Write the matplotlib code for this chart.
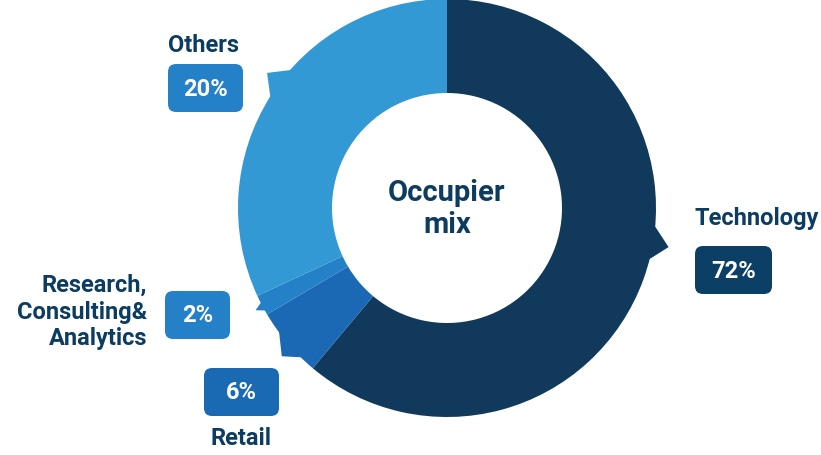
import numpy as np
import matplotlib.pyplot as plt
from matplotlib.patches import Polygon, FancyBboxPatch

# data (slice sizes as drawn, labels as printed)
sectors = ["Technology", "Retail", "Research,\nConsulting&\nAnalytics", "Others"]
shares = [61.1, 5.4, 1.6, 31.9]
pct_labels = ["72%", "6%", "2%", "20%"]
slice_colors = ["#10395c", "#1b69b4", "#2581c7", "#3399d4"]
box_colors = ["#0c3f66", "#1a69b3", "#2581c7", "#2581c7"]
txt_col = "#0d3c61"

W, H = 821, 456
cx, cy = 447, H - 209      # centre of the donut (y up)
R, r_in = 209, 115

plt.rcParams['font.family'] = ['Roboto', 'DejaVu Sans']

fig = plt.figure(figsize=(W / 100, H / 100), dpi=100)
ax = fig.add_axes([0, 0, 1, 1])

ax.pie(shares, colors=slice_colors, startangle=90, counterclock=False,
       center=(cx, cy), radius=R,
       wedgeprops=dict(width=R - r_in, edgecolor="none", linewidth=0))

# little callout triangles on the rim (angles clockwise from top)
# (base angle 1, base angle 2, tip angle, tip radius)
pointers = [(94.4, 104.7, 100.0, 225),
            (223.8, 234.4, 228.1, 222),
            (240.3, 243.3, 241.9, 217),
            (301.6, 311.9, 306.9, 225)]

def pt(a, rad):
    a = np.radians(a)
    return (cx + rad * np.sin(a), cy + rad * np.cos(a))

for (a1, a2, at, rt), c in zip(pointers, slice_colors):
    poly = [pt(a1, R - 2), pt(at, rt), pt(a2, R - 2), pt((a1 + a2) / 2, R - 10)]
    ax.add_patch(Polygon(poly, closed=True, facecolor=c, edgecolor="none"))

ax.text(cx, cy, "Occupier\nmix", ha="center", va="center", fontsize=21,
        fontweight="bold", color=txt_col, linespacing=1.2)

# label boxes: left, top, width (pixels from top-left), all 48 px high
boxes = [(695, 247, 77), (204, 369, 75), (165, 292, 65), (168, 65, 75)]
for (bx, by, bw), c, lab in zip(boxes, box_colors, pct_labels):
    ax.add_patch(FancyBboxPatch((bx + 8, H - by - 48 + 8), bw - 16, 48 - 16,
                                boxstyle="round,pad=8,rounding_size=8",
                                facecolor=c, edgecolor="none"))
    ax.text(bx + bw / 2, H - by - 24, lab, ha="center", va="center",
            fontsize=17, fontweight="bold", color="white")

# category names
ax.text(695, H - 218, sectors[0], ha="left", va="center", fontsize=17,
        fontweight="bold", color=txt_col)
ax.text(210, H - 439, sectors[1], ha="left", va="center", fontsize=17,
        fontweight="bold", color=txt_col)
ax.text(147, H - 312, sectors[2], ha="right", va="center", fontsize=17,
        fontweight="bold", color=txt_col, linespacing=1.22)
ax.text(168, H - 45, sectors[3], ha="left", va="center", fontsize=17,
        fontweight="bold", color=txt_col)

ax.set_xlim(0, W)
ax.set_ylim(0, H)
ax.set_aspect("equal")
ax.axis("off")

fig.savefig("out.png", dpi=100)
